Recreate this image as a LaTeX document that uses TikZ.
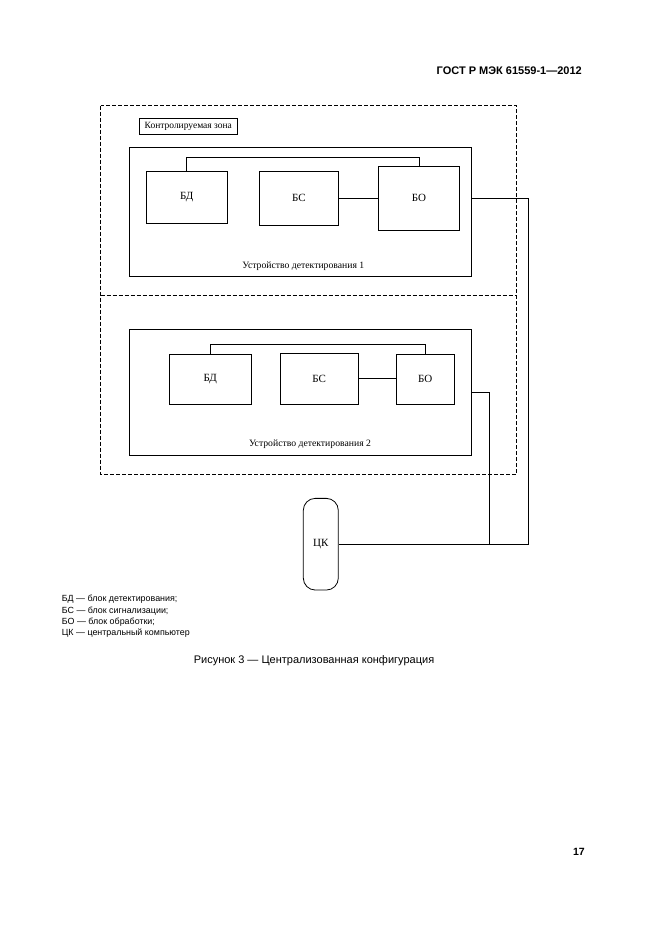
\documentclass[tikz,border=0pt]{standalone}
\usepackage{fontspec}
\setmainfont{Liberation Serif}
\newfontfamily\arial{Liberation Sans}
\begin{document}
\begin{tikzpicture}[x=1pt,y=-1pt,
  blk/.style={draw, line width=0.8pt, inner sep=0pt, font=\fontsize{11}{13}\selectfont},
  devbox/.style={draw, line width=0.8pt, inner sep=0pt},
  zone/.style={draw, line width=0.7pt, dash pattern=on 4pt off 2pt},
  wire/.style={line width=0.8pt},
  thickwire/.style={line width=1.6pt},
  lbl/.style={inner sep=0pt, font=\fontsize{9.7}{11}\selectfont},
  legend/.style={inner sep=0pt, anchor=west, font=\arial\fontsize{8.9}{10}\selectfont},
]
\useasboundingbox (0,0) rectangle (661,936);
\fill[white] (0,0) rectangle (661,936);

% header and page number
\node[inner sep=0pt, anchor=east, font=\arial\bfseries\fontsize{11}{13}\selectfont] (hdr) at (582,71) {ГОСТ Р МЭК 61559-1—2012};
\node[inner sep=0pt, anchor=east, font=\arial\bfseries\fontsize{10.5}{12}\selectfont] (pg) at (585,852) {17};

% controlled zone (dashed)
\draw[zone] (100.7,105.7) rectangle (516.7,474.3);
\draw[zone] (100.7,295.5) -- (516.7,295.5);

% zone label
\fill[gray!60] (140.3,119.3) rectangle (238.3,135.3);
\node[draw, fill=white, line width=0.6pt, minimum width=98pt, minimum height=16pt, inner sep=0pt, font=\fontsize{9.5}{11}\selectfont] (zl) at (188.3,126.3) {Контролируемая зона};

% device 1
\node[devbox, minimum width=342.4pt, minimum height=129pt] (dev1) at (300.5,212.2) {};
\node[blk, minimum width=81.3pt, minimum height=52.3pt] (bd1) at (186.7,197.2) {БД};
\node[blk, minimum width=79pt, minimum height=54pt] (bs1) at (298.8,198) {БС};
\node[blk, minimum width=80.6pt, minimum height=63.3pt] (bo1) at (419,198.3) {БО};
\node[lbl] (l1) at (303.3,266.5) {Устройство детектирования 1};
\coordinate (t1) at (0,157.7);
\draw[wire] (bd1.north) -- (bd1.north |- t1) -| (bo1.north);
\draw[wire] (bs1.east) -- (bo1.west |- bs1.east);

% device 2
\node[devbox, minimum width=342.4pt, minimum height=125.7pt] (dev2) at (300.5,392.2) {};
\node[blk, minimum width=82.7pt, minimum height=50pt] (bd2) at (210.3,379.3) {БД};
\node[blk, minimum width=78.3pt, minimum height=51pt] (bs2) at (319.2,378.8) {БС};
\node[blk, minimum width=58.3pt, minimum height=50pt] (bo2) at (425.2,379.3) {БО};
\node[lbl] (l2) at (310,444) {Устройство детектирования 2};
\coordinate (t2) at (0,344.3);
\draw[wire] (bd2.north) -- (bd2.north |- t2);
\draw[wire] (bo2.north) -- (bo2.north |- t2);
\draw[thickwire] (bd2.north |- t2) -- (bo2.north |- t2);
\draw[wire] (bs2.east) -- (bo2.west |- bs2.east);

% central computer
\node[draw, line width=0.8pt, rounded corners=12pt, minimum width=35pt, minimum height=91.7pt, inner sep=0pt, font=\fontsize{11}{13}\selectfont] (ck) at (320.8,544.2) {ЦК};
\coordinate (j1) at (528.7,544.2);
\coordinate (j2) at (489.3,544.2);
\draw[wire] (bo1 -| dev1.east) -| (j1) -- (ck.east);
\draw[wire] (dev2.east) -| (j2);

% legend
\node[legend] (lg1) at (61.7,599.3) {БД — блок детектирования;};
\node[legend] (lg2) at (61.7,610.8) {БС — блок сигнализации;};
\node[legend] (lg3) at (61.7,622.2) {БО — блок обработки;};
\node[legend] (lg4) at (61.7,633.5) {ЦК — центральный компьютер};

% caption
\node[inner sep=0pt, font=\arial\fontsize{11}{13}\selectfont] (cap) at (314,661) {Рисунок 3 — Централизованная конфигурация};
\end{tikzpicture}
\end{document}
